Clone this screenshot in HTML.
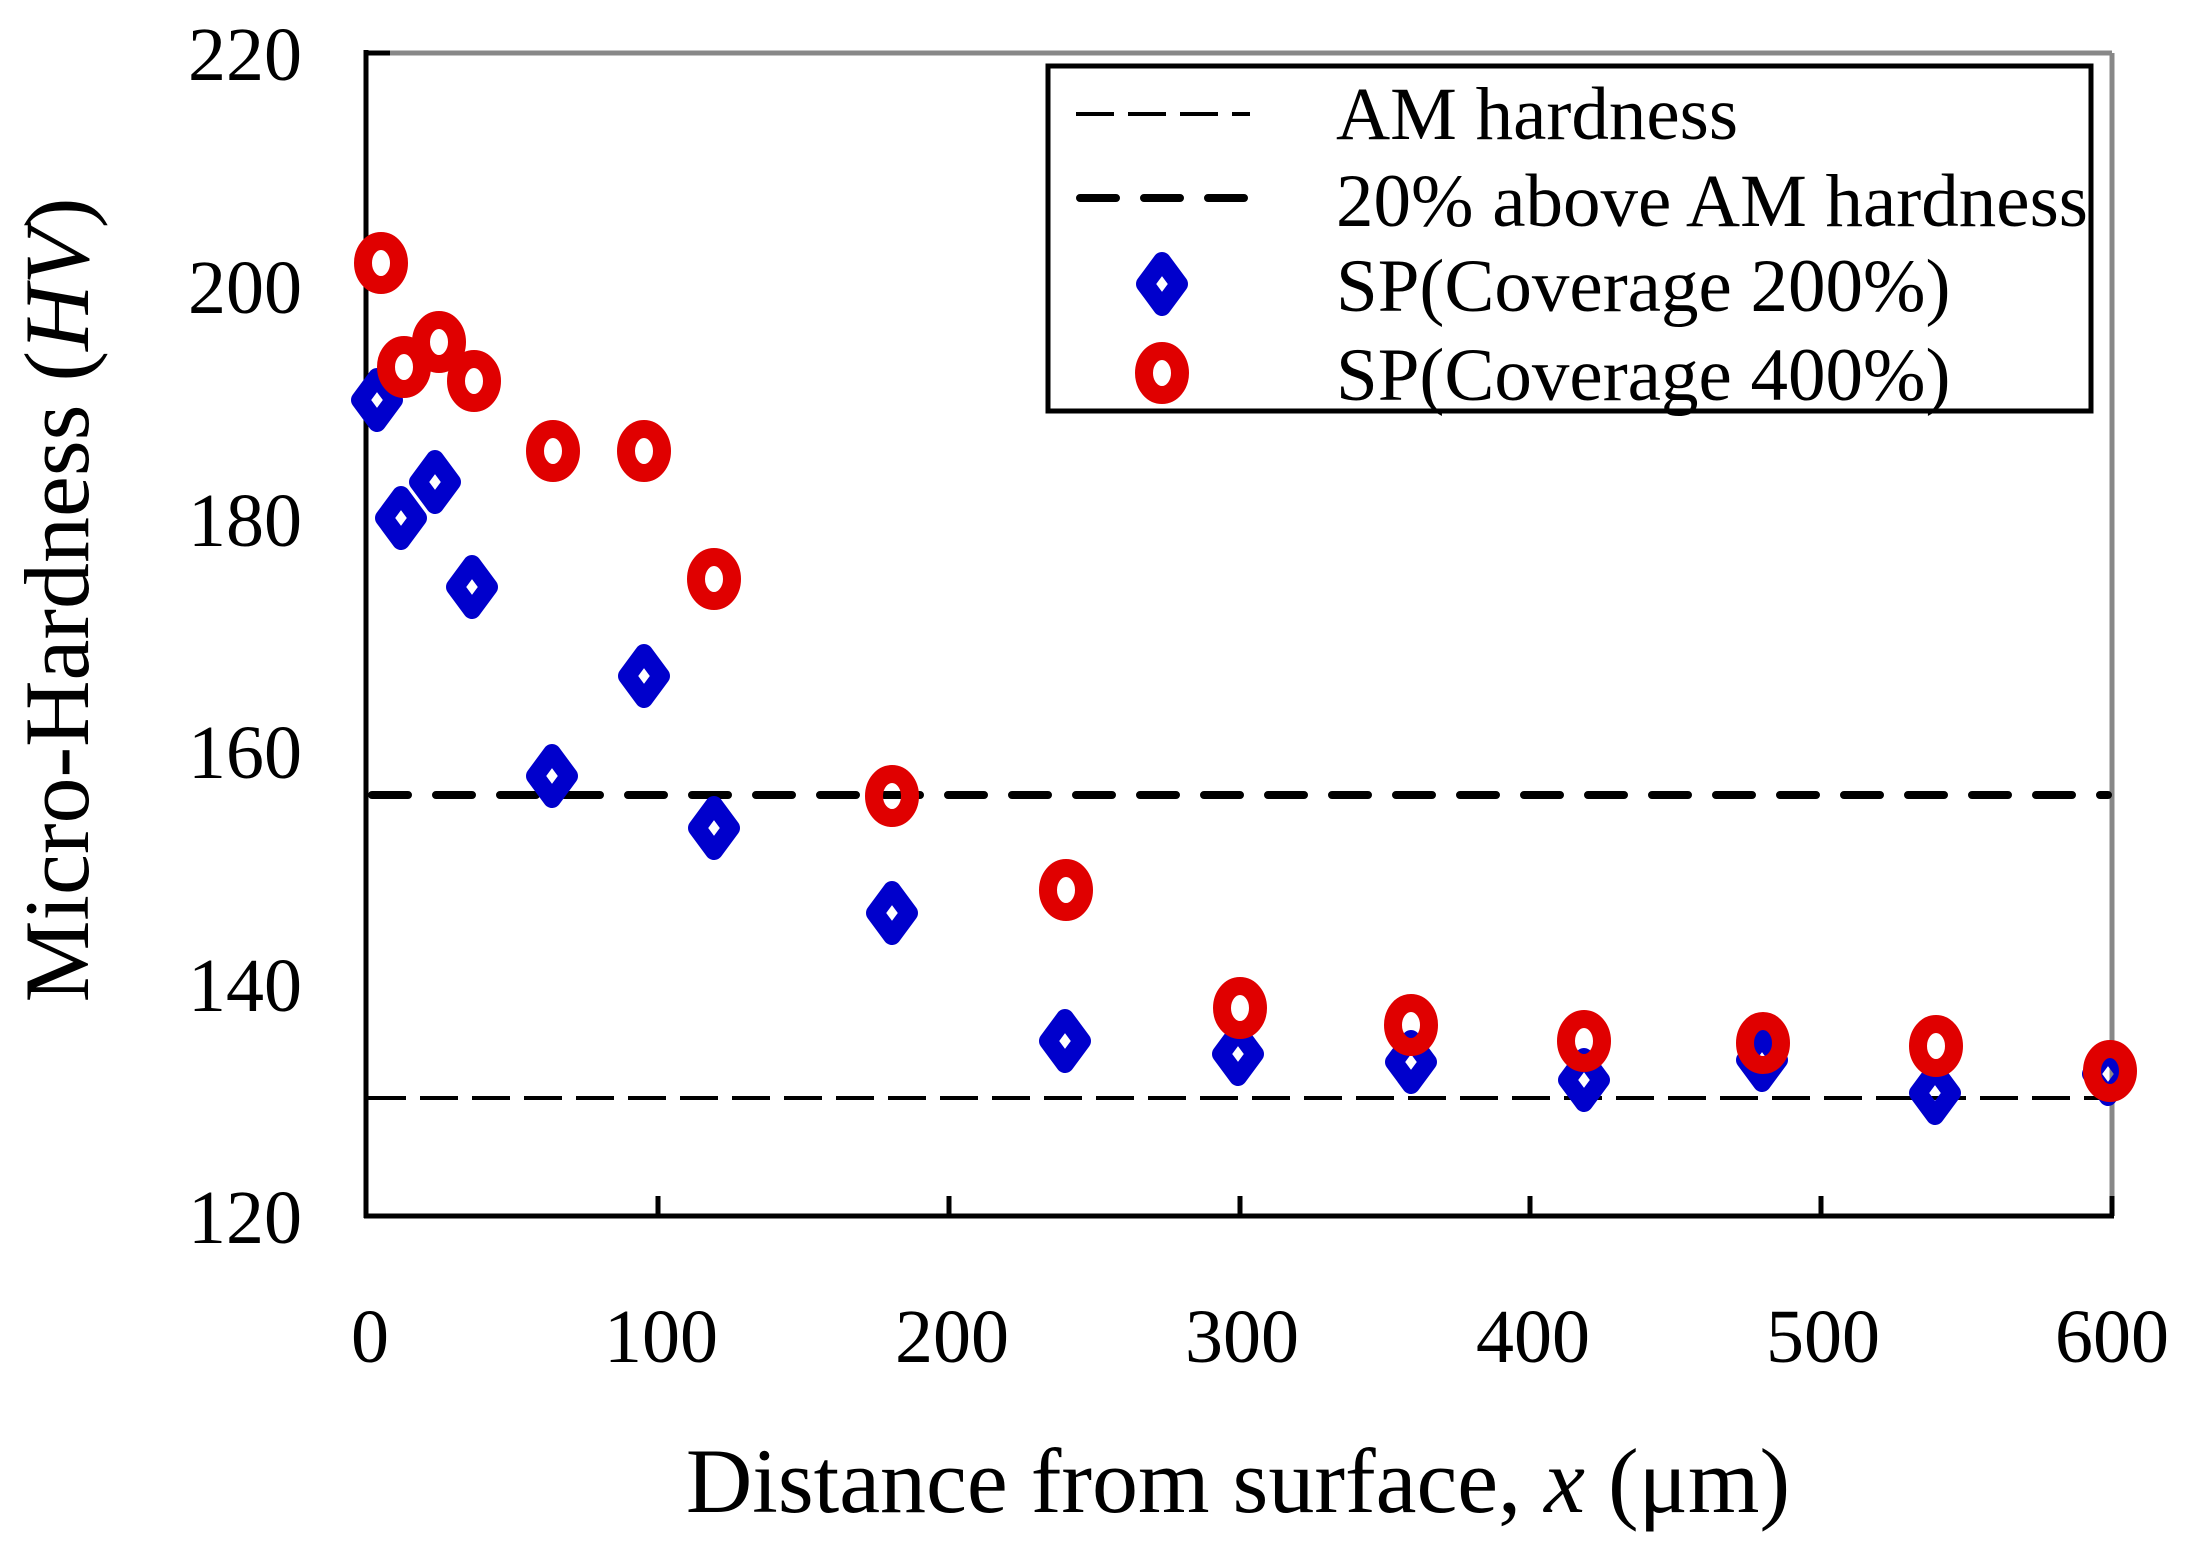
<!DOCTYPE html>
<html><head><meta charset="utf-8"><style>html,body{margin:0;padding:0;background:#fff}svg{display:block}</style></head>
<body>
<svg width="2186" height="1546" viewBox="0 0 2186 1546" xmlns="http://www.w3.org/2000/svg" font-family="Liberation Serif, serif">
<defs>
<path id="dm" d="M0,-23 L17,0 L0,23 L-17,0 Z" fill="none" stroke="#0000cc" stroke-width="18" stroke-linejoin="round"/>
<ellipse id="cr" cx="0" cy="0" rx="18" ry="22" fill="none" stroke="#e00000" stroke-width="18"/>
</defs>
<line x1="366" y1="53" x2="2112" y2="53" stroke="#888" stroke-width="5"/>
<line x1="2112" y1="53" x2="2112" y2="1216" stroke="#888" stroke-width="5"/>
<line x1="366" y1="53" x2="390" y2="53" stroke="#000" stroke-width="5"/>
<line x1="2112" y1="1196" x2="2112" y2="1216" stroke="#000" stroke-width="5"/>
<line x1="366" y1="50" x2="366" y2="1218" stroke="#000" stroke-width="5"/>
<line x1="364" y1="1216" x2="2114" y2="1216" stroke="#000" stroke-width="5"/>
<g stroke="#000" stroke-width="5">
<line x1="658" y1="1196" x2="658" y2="1216"/><line x1="949" y1="1196" x2="949" y2="1216"/>
<line x1="1240" y1="1196" x2="1240" y2="1216"/><line x1="1530" y1="1196" x2="1530" y2="1216"/>
<line x1="1821" y1="1196" x2="1821" y2="1216"/>
</g>
<line x1="368" y1="1098" x2="2112" y2="1098" stroke="#000" stroke-width="4" stroke-dasharray="38 14"/>
<line x1="372" y1="795" x2="2108" y2="795" stroke="#000" stroke-width="8" stroke-linecap="round" stroke-dasharray="36 28"/>
<g font-size="76" text-anchor="end">
<text x="302" y="80">220</text><text x="302" y="313">200</text><text x="302" y="546">180</text>
<text x="302" y="778">160</text><text x="302" y="1011">140</text><text x="302" y="1243">120</text>
</g>
<g font-size="76" text-anchor="middle">
<text x="370" y="1362">0</text><text x="661" y="1362">100</text><text x="952" y="1362">200</text>
<text x="1242" y="1362">300</text><text x="1533" y="1362">400</text><text x="1823" y="1362">500</text><text x="2112" y="1362">600</text>
</g>
<text x="1238" y="1512" font-size="92" text-anchor="middle">Distance from surface, <tspan font-style="italic">x</tspan> (μm)</text>
<text transform="translate(88,600) rotate(-90)" font-size="92" text-anchor="middle">Micro-Hardness (<tspan font-style="italic">HV</tspan>)</text>
<use href="#dm" x="377" y="400"/><use href="#dm" x="401" y="518"/><use href="#dm" x="435" y="482"/>
<use href="#dm" x="472" y="587"/><use href="#dm" x="552" y="776"/><use href="#dm" x="644" y="676"/>
<use href="#dm" x="714" y="828"/><use href="#dm" x="892" y="913"/><use href="#dm" x="1065" y="1041"/>
<use href="#dm" x="1238" y="1054"/><use href="#dm" x="1411" y="1062"/><use href="#dm" x="1584" y="1080"/>
<use href="#dm" x="1762" y="1060"/><use href="#dm" x="1935" y="1093"/><use href="#dm" x="2108" y="1074"/>
<use href="#cr" x="381" y="263"/><use href="#cr" x="404" y="367"/><use href="#cr" x="439" y="342"/>
<use href="#cr" x="474" y="381"/><use href="#cr" x="553" y="451"/><use href="#cr" x="644" y="451"/>
<use href="#cr" x="714" y="579"/><use href="#cr" x="892" y="796"/><use href="#cr" x="1066" y="890"/>
<use href="#cr" x="1240" y="1008"/><use href="#cr" x="1411" y="1025"/><use href="#cr" x="1584" y="1041"/>
<use href="#cr" x="1763" y="1043"/><use href="#cr" x="1936" y="1046"/><use href="#cr" x="2110" y="1071"/>
<rect x="1048" y="66" width="1043" height="345" fill="#fff" stroke="#000" stroke-width="5"/>
<line x1="1076" y1="114" x2="1250" y2="114" stroke="#000" stroke-width="4" stroke-dasharray="38 14"/>
<line x1="1080" y1="198" x2="1246" y2="198" stroke="#000" stroke-width="8" stroke-linecap="round" stroke-dasharray="36 28"/>
<use href="#dm" x="1162" y="284"/>
<use href="#cr" x="1162" y="373"/>
<g font-size="75">
<text x="1336" y="139">AM hardness</text>
<text x="1336" y="226">20% above AM hardness</text>
<text x="1336" y="311">SP(Coverage 200%)</text>
<text x="1336" y="400">SP(Coverage 400%)</text>
</g>
</svg>
</body></html>
